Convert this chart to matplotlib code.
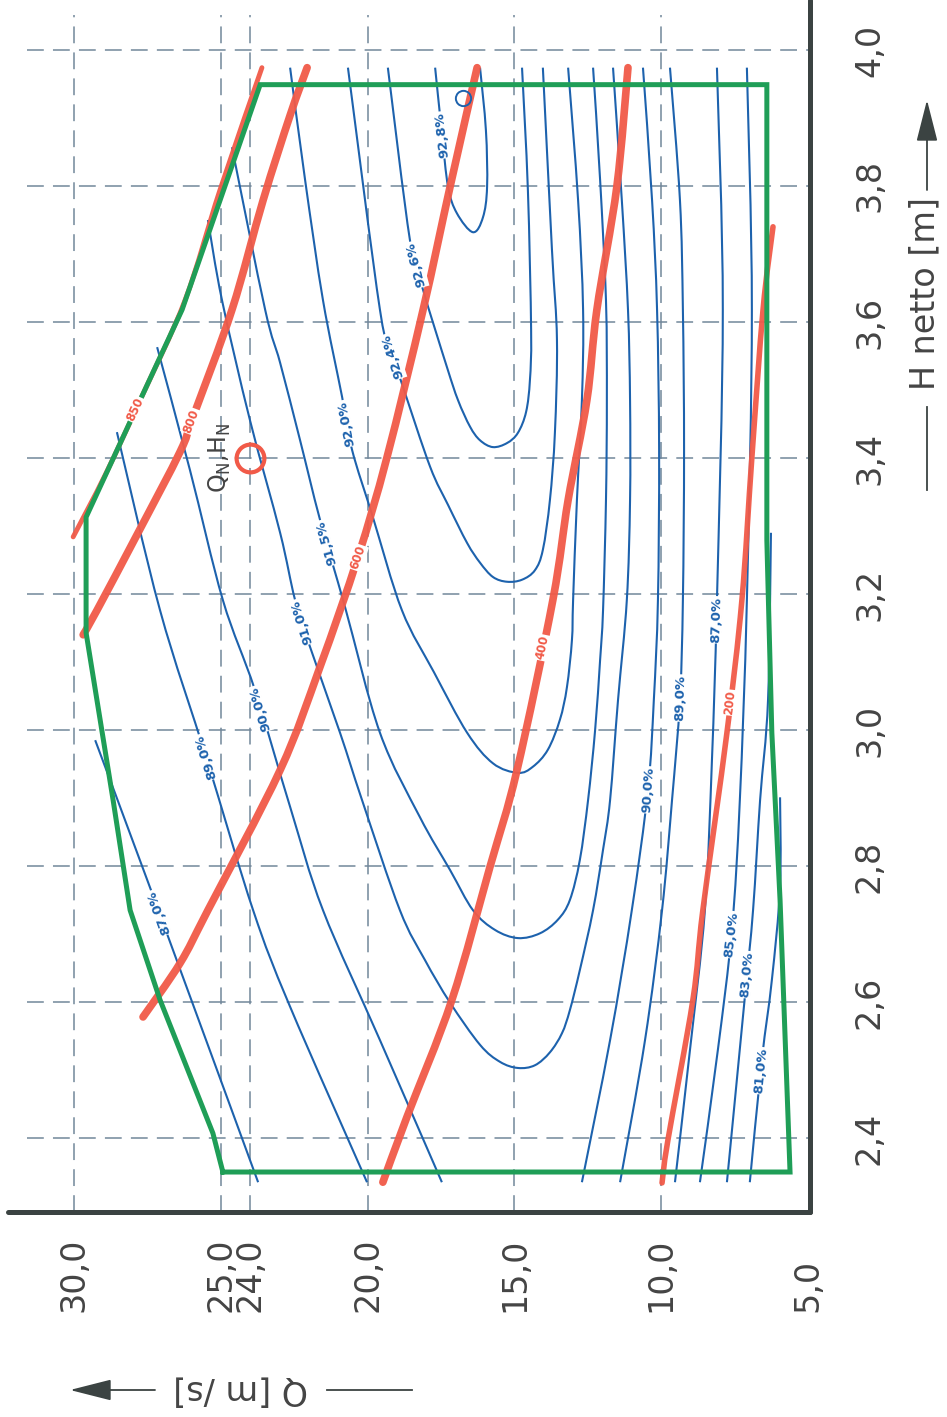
import numpy as np
import matplotlib
matplotlib.use("Agg")
import matplotlib.pyplot as plt
from matplotlib.path import Path
from matplotlib.patches import PathPatch

# ---- axes ----
q_ticks = [30.0, 25.0, 24.0, 20.0, 15.0, 10.0, 5.0]
q_tick_labels = ["30,0", "25,0", "24,0", "20,0", "15,0", "10,0", "5,0"]
q_grid = [30.0, 25.0, 24.0, 20.0, 15.0, 10.0]
h_ticks = [2.4, 2.6, 2.8, 3.0, 3.2, 3.4, 3.6, 3.8, 4.0]
h_tick_labels = ["2,4", "2,6", "2,8", "3,0", "3,2", "3,4", "3,6", "3,8", "4,0"]

# ---- operating range (green) ----
q_range = [24.93, 25.27, 27.07, 28.09, 28.67, 29.22, 29.59, 29.59, 27.75, 26.32, 23.66,
           6.40, 6.40, 6.23, 5.95, 5.61, 24.93]
h_range = [2.350, 2.407, 2.603, 2.735, 2.897, 3.044, 3.143, 3.313, 3.485, 3.618, 3.949,
           3.949, 3.279, 2.996, 2.750, 2.350, 2.350]

# ---- red lines ----
q_r850 = [23.60, 25.03, 26.22, 27.75, 28.94, 30.03]
h_r850 = [3.974, 3.794, 3.632, 3.485, 3.375, 3.284]
q_r800 = [22.06, 22.64, 23.56, 24.62, 25.95, 26.39, 27.82, 29.22, 29.69]
h_r800 = [3.974, 3.904, 3.779, 3.618, 3.460, 3.409, 3.290, 3.176, 3.140]
q_r600 = [16.27, 17.19, 18.11, 19.34, 20.33, 21.62, 22.98, 25.44, 26.39, 27.65]
h_r600 = [3.974, 3.799, 3.618, 3.401, 3.254, 3.093, 2.941, 2.735, 2.657, 2.578]
q_r400 = [11.13, 11.51, 12.19, 12.53, 13.17, 13.69, 14.91, 15.83, 17.13, 18.66, 19.48]
h_r400 = [3.974, 3.799, 3.618, 3.485, 3.338, 3.191, 2.941, 2.799, 2.603, 2.431, 2.335]
q_r200 = [6.19, 6.53, 6.91, 7.25, 7.76, 8.58, 8.92, 9.77, 9.97]
h_r200 = [3.740, 3.618, 3.401, 3.191, 2.996, 2.735, 2.603, 2.397, 2.334]

red_labels = ["850", "800", "600", "400", "200"]
red_label_q = [27.89, 26.12, 20.36, 14.03, 7.59]
red_label_h = [3.471, 3.456, 3.254, 3.121, 3.040]

# ---- efficiency contours (blue) ----
q_928 = [17.70, 17.47, 17.26, 16.96, 16.41, 16.07, 15.93, 15.97, 16.17]
h_928 = [3.974, 3.878, 3.799, 3.760, 3.732, 3.754, 3.799, 3.882, 3.974]

q_926 = [19.31, 18.56, 18.11, 17.30, 16.92, 16.51, 16.17, 15.73, 15.25, 14.88, 14.60, 14.47,
         14.43, 14.54, 14.74]
h_926 = [3.974, 3.721, 3.647, 3.534, 3.485, 3.446, 3.426, 3.416, 3.422, 3.437, 3.468, 3.515,
         3.588, 3.794, 3.974]

q_924 = [20.67, 19.58, 19.17, 18.79, 17.87, 17.26, 16.61, 16.17, 15.73, 15.25, 14.74, 14.30,
         14.03, 13.79, 13.62, 13.55, 13.72, 14.03]
h_924 = [3.974, 3.618, 3.554, 3.504, 3.387, 3.331, 3.275, 3.246, 3.225, 3.218, 3.221, 3.235,
         3.265, 3.338, 3.437, 3.574, 3.706, 3.974]

q_920 = [22.64, 22.13, 21.52, 20.87, 20.53, 19.82, 18.83, 17.74, 16.61, 15.73, 14.88, 14.37,
         13.86, 13.45, 13.21, 13.04, 13.00, 12.87, 12.70, 12.66, 12.83, 13.17]
h_920 = [3.974, 3.809, 3.632, 3.490, 3.412, 3.313, 3.176, 3.085, 2.996, 2.951, 2.937, 2.946,
         2.971, 3.015, 3.063, 3.132, 3.191, 3.338, 3.485, 3.618, 3.779, 3.974]

q_915 = [24.62, 23.49, 22.98, 22.30, 21.62, 20.77, 19.58, 18.22, 17.19, 16.41, 15.66, 14.88,
         14.13, 13.52, 13.11, 12.77, 12.49, 12.25, 12.08, 11.98, 11.88, 11.85, 11.88, 12.08, 12.32]
h_915 = [3.857, 3.618, 3.540, 3.426, 3.309, 3.181, 2.996, 2.872, 2.794, 2.735, 2.706, 2.694,
         2.701, 2.721, 2.750, 2.809, 2.897, 3.000, 3.103, 3.176, 3.338, 3.485, 3.632, 3.809, 3.974]

q_910 = [25.44, 24.96, 24.01, 22.98, 22.47, 21.96, 20.94, 20.19, 18.90, 18.05, 17.19, 16.17,
         15.49, 14.88, 14.30, 13.79, 13.38, 13.11, 12.77, 12.32, 11.98, 11.74, 11.47, 11.17,
         11.06, 11.06, 11.13, 11.34, 11.64]
h_910 = [3.750, 3.632, 3.456, 3.290, 3.191, 3.122, 2.996, 2.897, 2.735, 2.662, 2.599, 2.537,
         2.512, 2.503, 2.507, 2.526, 2.554, 2.588, 2.647, 2.735, 2.824, 2.897, 3.044, 3.191,
         3.338, 3.485, 3.618, 3.779, 3.974]

q_900_left = [27.17, 26.05, 24.93, 23.84, 22.64, 21.52, 19.58, 17.47]
h_900_left = [3.563, 3.382, 3.191, 3.059, 2.887, 2.735, 2.544, 2.335]
q_900_right = [10.62, 10.31, 10.14, 10.07, 10.11, 10.25, 10.45, 11.00, 11.74, 12.70]
h_900_right = [3.974, 3.779, 3.618, 3.412, 3.191, 3.044, 2.912, 2.735, 2.544, 2.335]

q_890_left = [28.54, 27.07, 25.47, 23.90, 22.64, 20.02]
h_890_left = [3.438, 3.176, 2.956, 2.735, 2.593, 2.335]
q_890_right = [9.70, 9.36, 9.26, 9.22, 9.26, 9.36, 9.63, 9.97, 10.55, 11.40]
h_890_right = [3.974, 3.779, 3.618, 3.412, 3.191, 3.044, 2.897, 2.735, 2.544, 2.335]

q_870_left = [29.28, 27.34, 23.73]
h_870_left = [2.985, 2.760, 2.335]
q_870_right = [8.10, 7.90, 8.10, 8.27, 8.51, 9.02, 9.53]
h_870_right = [3.974, 3.618, 3.191, 2.956, 2.735, 2.529, 2.335]

q_850 = [7.08, 6.91, 7.08, 7.32, 7.59, 8.07, 8.68]
h_850 = [3.974, 3.618, 3.191, 2.897, 2.706, 2.529, 2.335]

q_830 = [6.26, 6.36, 6.63, 6.87, 7.15, 7.76]
h_830 = [3.290, 3.044, 2.897, 2.735, 2.607, 2.335]

q_810 = [5.95, 5.95, 6.23, 6.57, 6.98]
h_810 = [2.901, 2.769, 2.632, 2.515, 2.335]

eff_labels = ["92,8%", "92,6%", "92,4%", "92,0%", "91,5%", "91,0%", "90,0%", "89,0%", "87,0%",
              "87,0%", "89,0%", "90,0%", "85,0%", "83,0%", "81,0%"]
eff_label_q = [17.47, 18.39, 19.17, 20.70, 21.42, 22.23, 23.60, 25.54, 27.07,
               8.07, 9.33, 10.45, 7.59, 7.01, 6.60]
eff_label_h = [3.875, 3.684, 3.549, 3.451, 3.275, 3.159, 3.032, 2.960, 2.732,
               3.162, 3.047, 2.912, 2.699, 2.640, 2.499]

# nominal point and best point
q_nom, h_nom = 24.0, 3.4
q_best, h_best = 16.75, 3.929

BLUE = "#1d62ad"
RED = "#f15a48"
GREEN = "#1f9e57"
DARK = "#3b4342"
GRID = "#72879a"
TXT = "#444444"

W, H = 947, 1417
fig = plt.figure(figsize=(W / 100, H / 100), dpi=100)
ax = fig.add_axes([8 / W, (H - 1212) / H, 802 / W, 1212 / H])
ax.set_xlim(32.25, 4.93)
ax.set_ylim(2.2912, 4.0735)
ax.set_xticks([])
ax.set_yticks([])
for s in ["top", "left"]:
    ax.spines[s].set_visible(False)
for s in ["bottom", "right"]:
    ax.spines[s].set_linewidth(3.6)
    ax.spines[s].set_color(DARK)
    ax.spines[s].set_capstyle("round")


def smooth(qs, hs, **kw):
    # smooth curve through the read points (Catmull-Rom as cubic Bezier segments)
    p = np.column_stack([qs, hs])
    verts = [p[0]]
    codes = [Path.MOVETO]
    n = len(p)
    for i in range(n - 1):
        p0 = p[i - 1] if i > 0 else p[i]
        p1, p2 = p[i], p[i + 1]
        p3 = p[i + 2] if i + 2 < n else p[i + 1]
        verts += [p1 + (p2 - p0) / 6, p2 - (p3 - p1) / 6, p2]
        codes += [Path.CURVE4] * 3
    ax.add_patch(PathPatch(Path(verts, codes), fill=False, **kw))


# grid
ax.vlines(q_grid, 2.2912, 4.0515, colors=GRID, lw=1.1, linestyles=(0, (11, 6)), zorder=1)
ax.hlines(h_ticks, 31.6, 4.93, colors=GRID, lw=1.1, linestyles=(0, (11, 6)), zorder=1)

# blue contours
contours = [(q_928, h_928), (q_926, h_926), (q_924, h_924), (q_920, h_920), (q_915, h_915),
            (q_910, h_910), (q_900_left, h_900_left), (q_900_right, h_900_right),
            (q_890_left, h_890_left), (q_890_right, h_890_right),
            (q_870_left, h_870_left), (q_870_right, h_870_right),
            (q_850, h_850), (q_830, h_830), (q_810, h_810)]
for qs, hs in contours:
    smooth(qs, hs, edgecolor=BLUE, lw=1.5, zorder=2, capstyle="butt")

# red lines
reds = [(q_r850, h_r850, 3.5), (q_r800, h_r800, 5.5), (q_r600, h_r600, 5.5),
        (q_r400, h_r400, 5.5), (q_r200, h_r200, 4.0)]
for qs, hs, lw in reds:
    smooth(qs, hs, edgecolor=RED, lw=lw, zorder=3, alpha=0.95, capstyle="round")

# green range
ax.plot(q_range, h_range, color=GREEN, lw=3.6, zorder=4, solid_joinstyle="miter")

# points
ax.plot([q_nom], [h_nom], "o", ms=20, mfc="none", mec=RED, mew=3.0, zorder=5)
ax.plot([q_best], [h_best], "o", ms=11, mfc="none", mec=BLUE, mew=1.4, zorder=5)
ax.annotate(r"Q$_\mathregular{N}$,H$_\mathregular{N}$", (q_nom, h_nom), xytext=(-30, 0),
            textcoords="offset pixels", rotation=90, ha="center", va="center",
            fontsize=17, color=TXT, zorder=6)


def label_on_line(qs, hs, q0, h0, text, color, size):
    pts = ax.transData.transform(np.column_stack([qs, hs]))
    p0 = ax.transData.transform((q0, h0))
    best = None
    for i in range(len(pts) - 1):
        a, b = pts[i], pts[i + 1]
        d = b - a
        t = np.clip(np.dot(p0 - a, d) / np.dot(d, d), 0, 1)
        c = a + t * d
        dist = np.linalg.norm(p0 - c)
        if best is None or dist < best[0]:
            best = (dist, c, d)
    _, c, d = best
    ang = np.degrees(np.arctan2(d[1], d[0])) % 180
    qc, hc = ax.transData.inverted().transform(c)
    ax.text(qc, hc, text, rotation=ang, rotation_mode="anchor", ha="center", va="center",
            color=color, fontsize=size, fontweight="bold", zorder=7,
            bbox=dict(fc="white", ec="none", pad=0.6))


eff_lines = [contours[0], contours[1], contours[2], contours[3], contours[4], contours[5],
             contours[6], contours[8], contours[10], contours[11], contours[9], contours[7],
             contours[12], contours[13], contours[14]]
for (qs, hs), t, q0, h0 in zip(eff_lines, eff_labels, eff_label_q, eff_label_h):
    label_on_line(qs, hs, q0, h0, t, BLUE, 9.5)

for (qs, hs, _), t, q0, h0 in zip(reds, red_labels, red_label_q, red_label_h):
    label_on_line(qs, hs, q0, h0, t, RED, 8.5)

# tick labels
for q, t in zip(q_ticks, q_tick_labels):
    ax.text(q, -0.0825, t, transform=ax.get_xaxis_transform(), rotation=90,
            ha="center", va="bottom", fontsize=24, color=TXT)
for h, t in zip(h_ticks, h_tick_labels):
    ax.text(1.0536, h, t, transform=ax.get_yaxis_transform(), rotation=90,
            ha="left", va="center", fontsize=24, color=TXT)


def fx(px):
    return px / W


def fy(py):
    return 1 - py / H


# axis titles with arrows
fig.text(fx(925), fy(293), "H netto [m]", rotation=90, ha="center", va="center",
         fontsize=24, color=TXT)
fig.add_artist(plt.Line2D([fx(927), fx(927)], [fy(407), fy(490)], color=DARK, lw=1.3))
ax.annotate("", xy=(fx(927), fy(100)), xytext=(fx(927), fy(190)),
            xycoords="figure fraction", textcoords="figure fraction",
            arrowprops=dict(arrowstyle="-|>,head_length=1.3,head_width=0.33", color=DARK,
                            lw=1.3, mutation_scale=20, shrinkA=0, shrinkB=0))

fig.text(fx(241), fy(1390), "Q [m /s]", rotation=180, ha="center", va="center",
         fontsize=24, color=TXT)
fig.add_artist(plt.Line2D([fx(327), fx(412)], [fy(1390), fy(1390)], color=DARK, lw=1.3))
ax.annotate("", xy=(fx(70), fy(1390)), xytext=(fx(155), fy(1390)),
            xycoords="figure fraction", textcoords="figure fraction",
            arrowprops=dict(arrowstyle="-|>,head_length=1.3,head_width=0.33", color=DARK,
                            lw=1.3, mutation_scale=20, shrinkA=0, shrinkB=0))

fig.savefig("out.png", dpi=100)
